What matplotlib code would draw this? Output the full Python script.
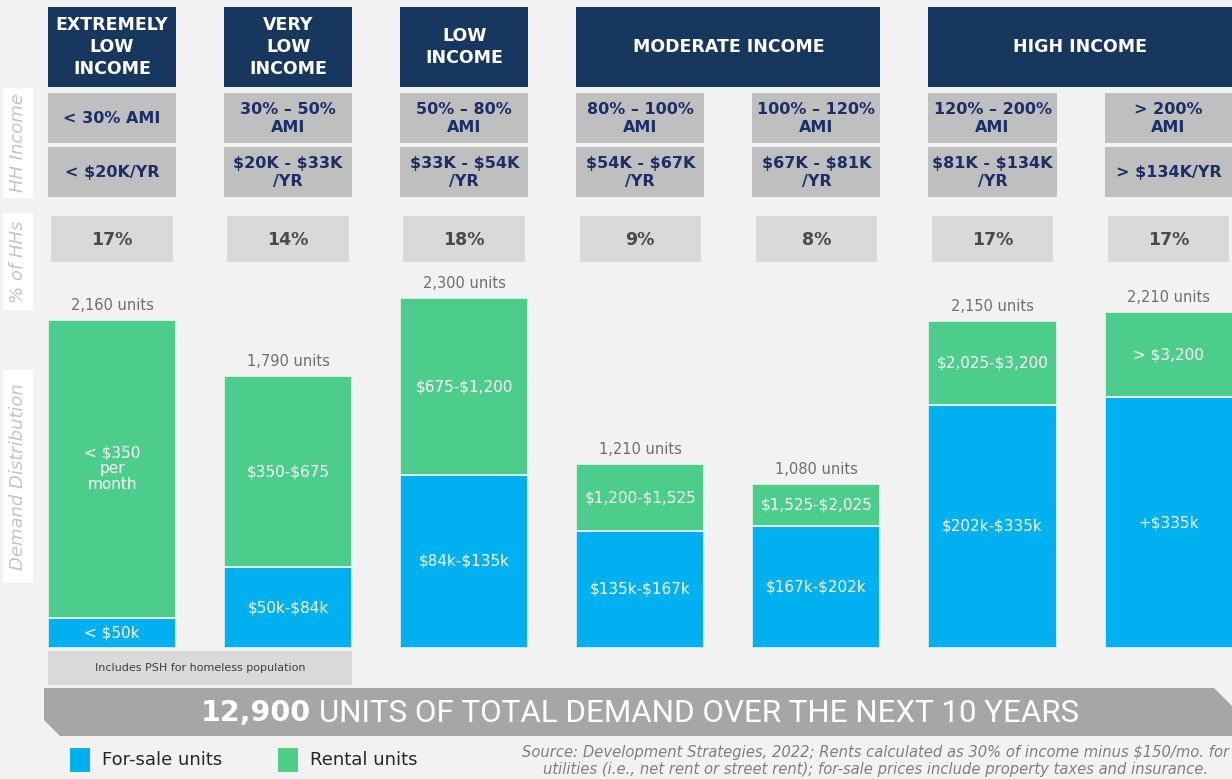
import matplotlib
matplotlib.use("Agg")
import matplotlib.pyplot as plt
import matplotlib.transforms as mtransforms
from matplotlib.patches import Rectangle, Polygon

plt.rcParams["text.parse_math"] = False

# ---------------- data ----------------
group_names = ["EXTREMELY\nLOW\nINCOME", "VERY\nLOW\nINCOME", "LOW\nINCOME",
               "MODERATE INCOME", "HIGH INCOME"]
group_first = [0, 1, 2, 3, 5]
group_last = [0, 1, 2, 4, 6]
ami_labels = ["< 30% AMI", "30% – 50%\nAMI", "50% – 80%\nAMI", "80% – 100%\nAMI",
              "100% – 120%\nAMI", "120% – 200%\nAMI", "> 200%\nAMI"]
income_labels = ["< $20K/YR", "$20K - $33K\n/YR", "$33K - $54K\n/YR", "$54K - $67K\n/YR",
                 "$67K - $81K\n/YR", "$81K - $134K\n/YR", "> $134K/YR"]
share_of_hhs = [17, 14, 18, 9, 8, 17, 17]
total_units = [2160, 1790, 2300, 1210, 1080, 2150, 2210]
for_sale_units = [200, 530, 1140, 770, 800, 1600, 1650]
rental_units = [1960, 1260, 1160, 440, 280, 550, 560]
for_sale_labels = ["< $50k", "$50k-$84k", "$84k-$135k", "$135k-$167k",
                   "$167k-$202k", "$202k-$335k", "+$335k"]
rental_labels = ["< $350\nper\nmonth", "$350-$675", "$675-$1,200", "$1,200-$1,525",
                 "$1,525-$2,025", "$2,025-$3,200", "> $3,200"]
side_labels = ["HH Income", "% of HHs", "Demand Distribution"]
banner_bold = "12,900"
banner_rest = "UNITS OF TOTAL DEMAND OVER THE NEXT 10 YEARS"
legend_labels = ["For-sale units", "Rental units"]
note_text = "Includes PSH for homeless population"
source_text = ("Source: Development Strategies, 2022; Rents calculated as 30% of income minus $150/mo. for\n"
               "utilities (i.e., net rent or street rent); for-sale prices include property taxes and insurance.")

# ---------------- style ----------------
BG = "#F2F2F2"
NAVY = "#17375E"
NAVY_TXT = "#1B2E66"
GRAY1 = "#BFBFBF"
GRAY2 = "#D9D9D9"
GREEN = "#4CCD8A"
BLUE = "#00B0F0"
BANNER = "#A6A6A6"

W, H = 1232, 779
fig = plt.figure(figsize=(W / 100, H / 100), dpi=100, facecolor=BG)

# overlay axes in pixel coordinates for layout decorations
ov = fig.add_axes([0, 0, 1, 1], zorder=0)
ov.set_xlim(0, W)
ov.set_ylim(H, 0)
ov.axis("off")
ov.set_facecolor("none")

# bar axes
bottom_px, top_px = 648, 280
left_center, step = 112, 176.1
ax = fig.add_axes([0, (H - bottom_px) / H, 1, (bottom_px - top_px) / H], zorder=1)
ax.set_xlim(-left_center / step, (W - left_center) / step)
ax.set_ylim(0, (bottom_px - top_px) / 0.152)
ax.axis("off")
ax.set_facecolor("none")

n = len(total_units)
xs = list(range(n))
bw = 0.727

ax.bar(xs, for_sale_units, width=bw, color=BLUE, edgecolor=BG, linewidth=1.2)
ax.bar(xs, rental_units, width=bw, bottom=for_sale_units, color=GREEN, edgecolor=BG, linewidth=1.2)

for i in xs:
    ax.text(i, for_sale_units[i] / 2, for_sale_labels[i], ha="center", va="center",
            color="white", fontsize=11, fontweight="medium")
    ax.text(i, for_sale_units[i] + rental_units[i] / 2, rental_labels[i], ha="center", va="center",
            color="white", fontsize=11, linespacing=1.05)
    ax.annotate(f"{total_units[i]:,} units", (i, total_units[i]), xytext=(0, 5),
                textcoords="offset points", ha="center", va="bottom",
                color="#6E6E6E", fontsize=10.5)

# blended transform: x from bar axes, y in pixels
bt = mtransforms.blended_transform_factory(ax.transData, ov.transData)

# group headers
for name, a, b in zip(group_names, group_first, group_last):
    x0 = a - bw / 2
    x1 = b + bw / 2
    if b == n - 1:
        x1 = b + 1.0
    ov.add_patch(Rectangle((x0, 7), x1 - x0, 80, transform=bt, facecolor=NAVY, edgecolor="none"))
    cx = (a + b) / 2 if b != n - 1 else (x0 + min(x1, ax.get_xlim()[1])) / 2
    ov.text(cx, 47, name, transform=bt, ha="center", va="center", color="white",
            fontsize=12.5, fontweight="bold", linespacing=1.3)

# AMI / income / share rows
for i in xs:
    ov.add_patch(Rectangle((i - bw / 2, 93), bw, 50, transform=bt, facecolor=GRAY1, edgecolor="none"))
    ov.add_patch(Rectangle((i - bw / 2, 147), bw, 50, transform=bt, facecolor=GRAY1, edgecolor="none"))
    ov.text(i, 118, ami_labels[i], transform=bt, ha="center", va="center", color=NAVY_TXT,
            fontsize=11.5, fontweight="bold", linespacing=1.25)
    ov.text(i, 172, income_labels[i], transform=bt, ha="center", va="center", color=NAVY_TXT,
            fontsize=11.5, fontweight="bold", linespacing=1.25)
    ov.add_patch(Rectangle((i - 0.345, 216), 0.69, 46, transform=bt, facecolor=GRAY2, edgecolor="none"))
    ov.text(i, 240, f"{share_of_hhs[i]}%", transform=bt, ha="center", va="center",
            color="#4A4A4A", fontsize=12.5, fontweight="bold")

# side labels
side_boxes = [(88, 198), (213, 310), (370, 583)]
for lab, (y0, y1) in zip(side_labels, side_boxes):
    ov.add_patch(Rectangle((3, y0), 30, y1 - y0, facecolor="white", edgecolor="none"))
    ov.text(18, (y0 + y1) / 2, lab, rotation=90, ha="center", va="center",
            color="#C4C4C4", fontsize=13, style="italic")

# PSH note box
ov.add_patch(Rectangle((0 - bw / 2, 651), 1 + bw, 34, transform=bt, facecolor=GRAY2, edgecolor="none"))
ov.text(0.5, 668, note_text, transform=bt, ha="center", va="center", color="#3F3F3F", fontsize=8)

# banner
ov.add_patch(Polygon([(44, 688), (1214, 688), (1232, 706), (1232, 736), (60, 736), (44, 720)],
                     closed=True, facecolor=BANNER, edgecolor="none"))
ov.text(311, 713, banner_bold, ha="right", va="center", color="white", fontsize=20.5,
        fontweight="bold", family="DejaVu Sans")
ov.text(319, 713, banner_rest, ha="left", va="center", color="white", fontsize=22.5,
        family="Roboto")

# legend
for xpos, col, lab in [(70, BLUE, legend_labels[0]), (278, GREEN, legend_labels[1])]:
    ov.add_patch(Rectangle((xpos, 748), 20, 24, facecolor=col, edgecolor="none"))
    ov.text(xpos + 32, 760, lab, ha="left", va="center", color="#262626", fontsize=13)

# source
ov.text(1229, 761, source_text, ha="right", va="center", multialignment="center",
        color="#7F7F7F", fontsize=10.6, style="italic", linespacing=1.15)

fig.savefig("out.png", dpi=100, facecolor=BG)
